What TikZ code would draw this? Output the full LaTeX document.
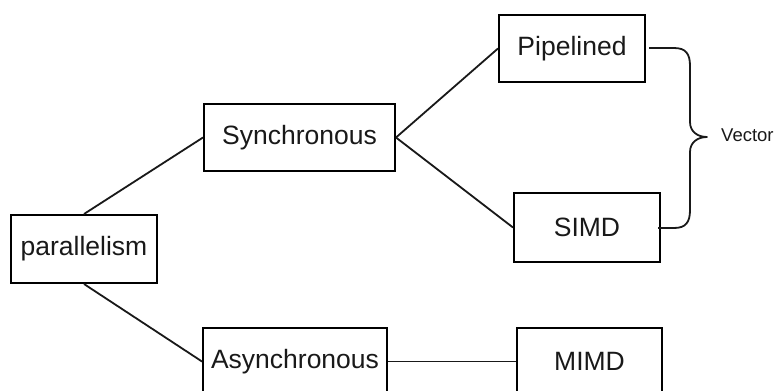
\documentclass[tikz,border=0pt]{standalone}
\usepackage{fontspec}
\setmainfont{Liberation Sans}
\begin{document}
\begin{tikzpicture}[x=1pt,y=-1pt,
  box/.style={draw=black, line width=2pt, inner sep=0pt, text=black!90,
    font=\fontsize{26.5}{30}\selectfont},
  conn/.style={draw=black!90, line width=1.8pt}]
\useasboundingbox (0,0) rectangle (774,391);
\clip (0,0) rectangle (774,391);
\node[box, minimum width=146pt, minimum height=68pt] (par) at (84,249) {parallelism};
\node[box, minimum width=191pt, minimum height=67pt] (syn) at (299.5,137.5) {Synchronous};
\node[box, minimum width=146pt, minimum height=67pt] (pip) at (572,48.5) {Pipelined};
\node[box, minimum width=146pt, minimum height=69pt] (simd) at (587,227.5) {SIMD};
\node[box, minimum width=184pt, minimum height=67pt] (asy) at (295,361.5) {Asynchronous};
\node[box, minimum width=145pt, minimum height=67pt] (mimd) at (589.5,361.5) {MIMD};
\node[anchor=west, inner sep=0pt, text=black!90, font=\fontsize{18.5}{20}\selectfont] (vec) at (721,135) {Vector};
\draw[conn] (par.north) -- (syn.west);
\draw[conn] (par.south) -- (asy.west);
\draw[conn] (syn.east) -- (pip.west);
\draw[conn] (syn.east) -- (simd.west);
\draw[conn] (asy.east) -- (mimd.west);
\coordinate (tip) at (707,137);
\coordinate (pa) at (649,48);
\coordinate (sa) at (658,228);
\draw[conn, line join=round] (pa) -- (674,48) .. controls (686,48) and (690,54) .. (690,66)
  -- (690,122) .. controls (690,132) and (698,137) .. (tip)
  .. controls (698,137) and (690,142) .. (690,152)
  -- (690,210) .. controls (690,222) and (686,228) .. (674,228) -- (sa);
\end{tikzpicture}
\end{document}
